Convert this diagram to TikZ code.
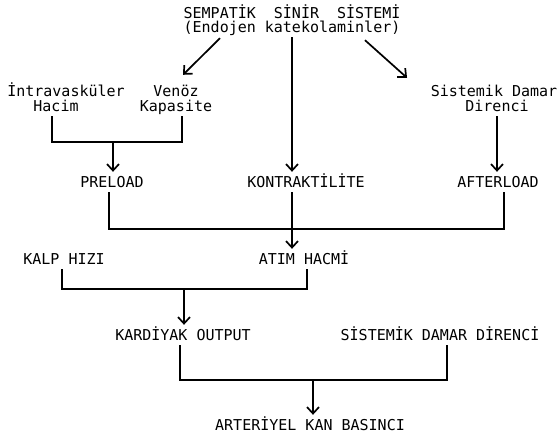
\documentclass[tikz,border=0pt]{standalone}
\usepackage{fontspec}
\setmonofont{DejaVu Sans Mono}
\usetikzlibrary{arrows.meta}
\begin{document}
\begin{tikzpicture}[x=1pt,y=-1pt,
  lbl/.style={font=\ttfamily\fontsize{15}{16}\selectfont, inner xsep=0pt, inner ysep=5pt,
              text height=10pt, text depth=0pt, anchor=center},
  conn/.style={line width=1.7pt},
  arr/.style={conn, -{Straight Barb[length=6.5pt,width=12pt,line width=1.7pt]}}]
\useasboundingbox (0,0) rectangle (559,439);
\fill[white] (0,0) rectangle (559,439);

% labels
\node[lbl] (sns1) at (292,13) {SEMPATİK\ \ SİNİR\ \ SİSTEMİ};
\node[lbl] (sns2) at (292,27) {(Endojen katekolaminler)};
\node[lbl] (iv) at (66,91) {İntravasküler};
\node[lbl] (hacim) at (56,106) {Hacim};
\node[lbl] (venoz) at (176,91) {Venöz};
\node[lbl] (kapasite) at (176,106) {Kapasite};
\node[lbl] (sdd1) at (494,91) {Sistemik Damar};
\node[lbl] (direnci) at (497,106) {Direnci};
\node[lbl] (preload) at (112,182) {PRELOAD};
\node[lbl] (kontr) at (306,182) {KONTRAKTİLİTE};
\node[lbl] (after) at (498,182) {AFTERLOAD};
\node[lbl] (kalp) at (64,259) {KALP HIZI};
\node[lbl] (atim) at (304,259) {ATIM HACMİ};
\node[lbl] (kard) at (183,335) {KARDİYAK OUTPUT};
\node[lbl] (sdd2) at (440,335) {SİSTEMİK DAMAR DİRENCİ};
\node[lbl] (abp) at (310,425) {ARTERİYEL KAN BASINCI};

% junctions
\coordinate (j1) at (113,142);
\coordinate (j2) at (292,229);
\coordinate (j3) at (184,289);
\coordinate (j4) at (313,380);

% sympathetic arrows
\draw[arr] ([xshift=-72pt,yshift=-1pt]sns2.south) -- ([xshift=7pt,yshift=6pt]venoz.north);
\draw[arr] (sns2.south) -- (sns2.south |- kontr.north);
\draw[arr] ([xshift=73pt,yshift=-3pt]sns2.south) -- ([xshift=-87pt,yshift=3pt]sdd1.north);

% preload group
\draw[conn] ([xshift=-4pt]hacim.south) |- (j1) -| ([xshift=6pt]kapasite.south);
\draw[arr] (j1) -- (j1 |- preload.north);
\draw[arr] (direnci.south) -- (direnci.south |- after.north);

% stroke volume group
\draw[conn] ([xshift=-3pt]preload.south) |- (j2) -| ([xshift=6pt]after.south);
\draw[conn] (sns2.south |- kontr.south) -- (j2);
\draw[arr] (j2) -- (j2 |- atim.north);

% cardiac output group
\draw[conn] ([xshift=-2pt]kalp.south) |- (j3) -| ([xshift=3pt]atim.south);
\draw[arr] (j3) -- (j3 |- kard.north);

% blood pressure group
\draw[conn] ([xshift=-3pt]kard.south) |- (j4) -| ([xshift=7pt]sdd2.south);
\draw[arr] (j4) -- (j4 |- abp.north);
\end{tikzpicture}
\end{document}
